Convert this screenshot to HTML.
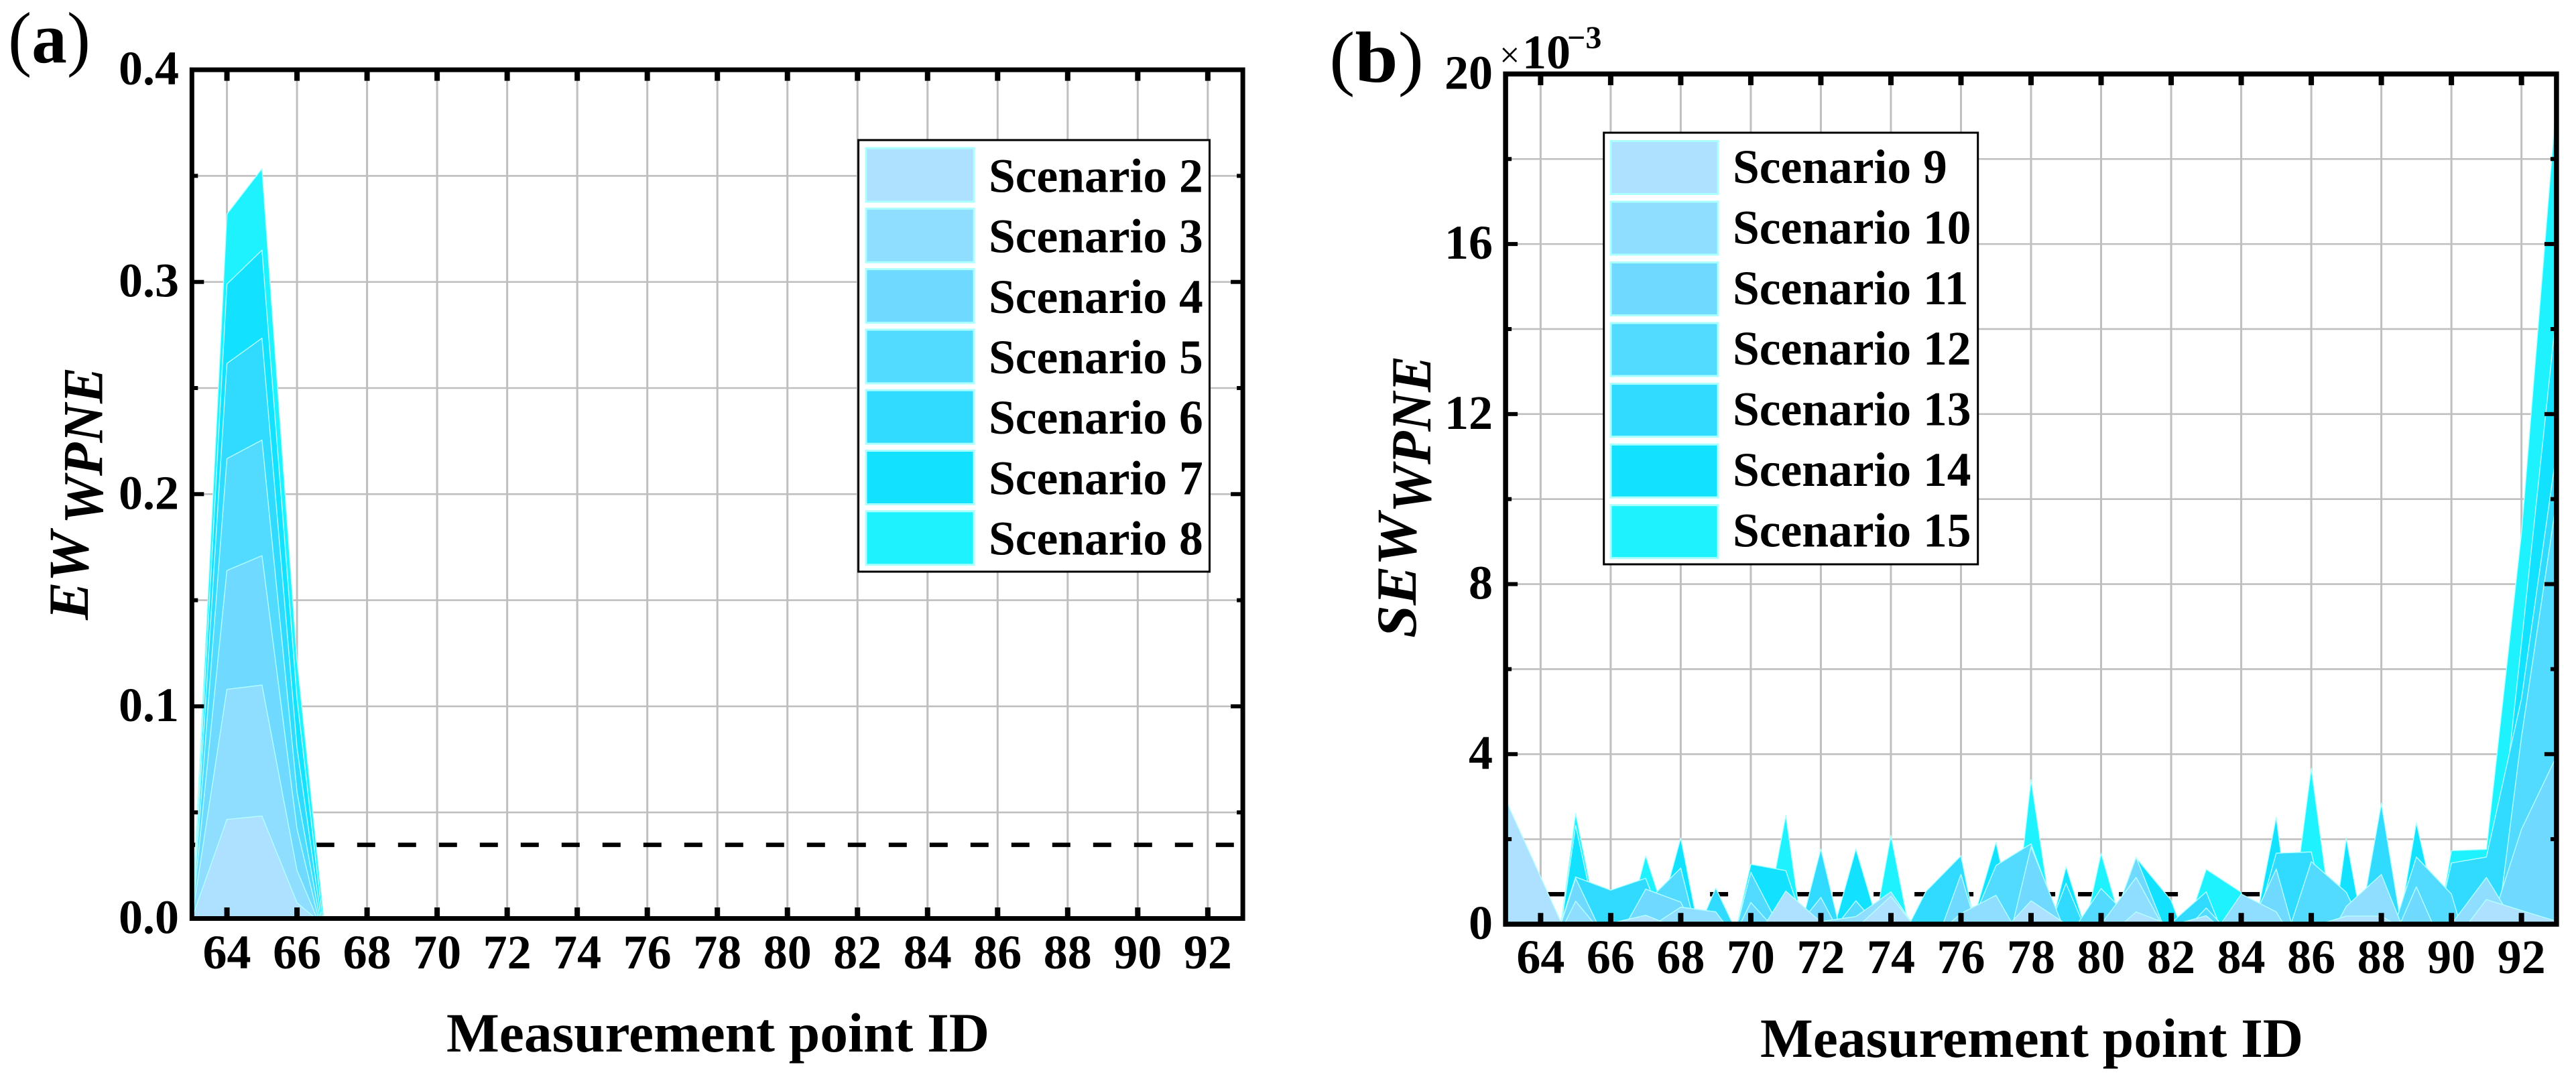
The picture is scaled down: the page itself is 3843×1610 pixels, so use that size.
<!DOCTYPE html>
<html lang="en">
<head>
<meta charset="utf-8">
<title>EW and SEW WPNE by measurement point</title>
<style>
html,body{margin:0;padding:0;background:#fff;}
svg{display:block;}
text{font-family:"Liberation Serif",serif;fill:#000;}
.tick{font-size:72px;font-weight:bold;}
.leg{font-size:71.5px;font-weight:bold;}
.xt{font-size:83px;font-weight:bold;}
.yt{font-size:85px;font-weight:bold;font-style:italic;}
.sw{stroke:#aaffff;stroke-width:3;}
.box{fill:#fff;stroke:#000;stroke-width:3;}
</style>
</head>
<body>
<svg id="figure" xmlns="http://www.w3.org/2000/svg" width="3843" height="1610" viewBox="0 0 3843 1610">
<defs>
<clipPath id="clip-a"><rect x="286.3" y="100" width="1567.7" height="1269.7"/></clipPath>
<clipPath id="clip-b"><rect x="2246.1" y="108" width="1567.9" height="1270"/></clipPath>
</defs>
<rect width="3843" height="1610" fill="#fff"/>

<g id="panel-a"></g>
<g id="panel-b"></g>

<text x="12" y="93" font-size="108" textLength="123" lengthAdjust="spacingAndGlyphs">(<tspan font-weight="bold">a</tspan>)</text>
<text x="1983" y="122" font-size="108" textLength="141" lengthAdjust="spacingAndGlyphs">(<tspan font-weight="bold">b</tspan>)</text>

<text class="xt" x="666" y="1569" textLength="810" lengthAdjust="spacingAndGlyphs">Measurement point ID</text>
<text class="xt" x="2626" y="1577" textLength="810" lengthAdjust="spacingAndGlyphs">Measurement point ID</text>

<text class="yt" transform="translate(131,925) rotate(-90)">EW</text>
<text class="yt" transform="translate(152.5,782) rotate(-90)" textLength="234" lengthAdjust="spacingAndGlyphs">WPNE</text>
<text class="yt" transform="translate(2112,952) rotate(-90)" textLength="186" lengthAdjust="spacingAndGlyphs">SEW</text>
<text class="yt" transform="translate(2134,765) rotate(-90)" textLength="234" lengthAdjust="spacingAndGlyphs">WPNE</text>

<g>
<text x="2237" y="100" font-size="54">×</text>
<text x="2271" y="102" font-size="72" font-weight="bold">10</text>
<text x="2338" y="72" font-size="48" font-weight="bold">−3</text>
</g>

<g>
<rect class="box" x="1280.6" y="209" width="523.9" height="644"/>
<rect class="sw" x="1292" y="221" width="161" height="80" fill="#ADE1FF"/>
<text class="leg" x="1475" y="286.4">Scenario 2</text>
<rect class="sw" x="1292" y="311.3" width="161" height="80" fill="#8FDDFF"/>
<text class="leg" x="1475" y="376.6">Scenario 3</text>
<rect class="sw" x="1292" y="401.6" width="161" height="80" fill="#70D9FF"/>
<text class="leg" x="1475" y="466.8">Scenario 4</text>
<rect class="sw" x="1292" y="491.9" width="161" height="80" fill="#52DBFF"/>
<text class="leg" x="1475" y="557">Scenario 5</text>
<rect class="sw" x="1292" y="582.2" width="161" height="80" fill="#30DBFF"/>
<text class="leg" x="1475" y="647">Scenario 6</text>
<rect class="sw" x="1292" y="672.5" width="161" height="80" fill="#12E2FF"/>
<text class="leg" x="1475" y="737.6">Scenario 7</text>
<rect class="sw" x="1292" y="762.8" width="161" height="80" fill="#1FF2FF"/>
<text class="leg" x="1475" y="827.6">Scenario 8</text>
</g>

<g>
<rect class="box" x="2392.7" y="198" width="558" height="644"/>
<rect class="sw" x="2403" y="210.5" width="160" height="79" fill="#ADE1FF"/>
<text class="leg" x="2585" y="273">Scenario 9</text>
<rect class="sw" x="2403" y="301" width="160" height="79" fill="#8FDDFF"/>
<text class="leg" x="2585" y="363.4">Scenario 10</text>
<rect class="sw" x="2403" y="391.6" width="160" height="79" fill="#70D9FF"/>
<text class="leg" x="2585" y="453.8">Scenario 11</text>
<rect class="sw" x="2403" y="482.1" width="160" height="79" fill="#52DBFF"/>
<text class="leg" x="2585" y="544.2">Scenario 12</text>
<rect class="sw" x="2403" y="572.6" width="160" height="79" fill="#30DBFF"/>
<text class="leg" x="2585" y="634.6">Scenario 13</text>
<rect class="sw" x="2403" y="663.2" width="160" height="79" fill="#12E2FF"/>
<text class="leg" x="2585" y="725">Scenario 14</text>
<rect class="sw" x="2403" y="753.7" width="160" height="79" fill="#1FF2FF"/>
<text class="leg" x="2585" y="815.4">Scenario 15</text>
</g>
</svg>

<script>
const measurementPoints = [63,64,65,66,67,68,69,70,71,72,73,74,75,76,77,78,79,80,81,82,83,84,85,86,87,88,89,90,91,92,93];
const xTickLabels = [64,66,68,70,72,74,76,78,80,82,84,86,88,90,92];

const ewTickValues = [0,0.1,0.2,0.3,0.4];
const ewTickLabels = ['0.0','0.1','0.2','0.3','0.4'];
const ewMinorValues = [0.05,0.15,0.25,0.35];
const ewThreshold = 0.0347;

const ew2 = [0,0.0467,0.0483,0.0074,-0.0064,0,0,0,0,0,0,0,0,0,0,0,0,0,0,0,0,0,0,0,0,0,0,0,0,0,0];
const ew3 = [0,0.108,0.110,0.0227,-0.0168,0,0,0,0,0,0,0,0,0,0,0,0,0,0,0,0,0,0,0,0,0,0,0,0,0,0];
const ew4 = [0,0.164,0.171,0.0423,-0.0268,0,0,0,0,0,0,0,0,0,0,0,0,0,0,0,0,0,0,0,0,0,0,0,0,0,0];
const ew5 = [0,0.2167,0.2255,0.0597,-0.032,0,0,0,0,0,0,0,0,0,0,0,0,0,0,0,0,0,0,0,0,0,0,0,0,0,0];
const ew6 = [0,0.2616,0.2735,0.0805,-0.0363,0,0,0,0,0,0,0,0,0,0,0,0,0,0,0,0,0,0,0,0,0,0,0,0,0,0];
const ew7 = [0,0.299,0.315,0.1036,-0.0389,0,0,0,0,0,0,0,0,0,0,0,0,0,0,0,0,0,0,0,0,0,0,0,0,0,0];
const ew8 = [0,0.332,0.3534,0.122,-0.0373,0,0,0,0,0,0,0,0,0,0,0,0,0,0,0,0,0,0,0,0,0,0,0,0,0,0];

const sewTickValues = [0,4,8,12,16,20];
const sewTickLabels = ['0','4','8','12','16','20'];
const sewMinorValues = [2,6,10,14,18];
const sewThreshold = 0.705;

const sew9  = [2.93,1.11,-0.72,0.02,0.21,-0.12,-0.5,-0.54,0.78,0.05,-0.1,0.66,-0.4,-0.3,-0.35,0.55,0,-0.44,0.29,-0.03,0.2,-0.5,-0.3,-0.06,0.19,0.19,-0.3,-0.5,0.58,0.32,0.07];
const sew10 = [0.5,-1.12,0.54,-0.45,-0.14,0.40,0.29,-0.82,0.72,0.06,0.18,0.76,-0.46,0.25,0.68,-0.76,-0.5,0,1.1,-0.4,-0.5,0.71,0.29,-1.1,0.42,1.17,-0.88,0,1.1,-0.25,-0.3];
const sew11 = [0.5,-1.5,1.08,-0.65,0.825,0.52,-1.15,0.51,-0.4,0.63,-0.92,-0.5,-1.1,1.17,-1.65,1.82,-0.23,-0.69,1.57,-0.5,-0.4,-0.5,1.3,-1.64,-1,-1,0.88,-1,-0.34,2.23,3.95];
const sew12 = [0.5,-1.5,0.9,-0.7,0.5,1.32,-2,1.22,-0.36,-0.5,0.55,-0.4,-0.6,-0.57,1.38,1.89,-0.4,0.84,0,-0.5,0.38,-0.5,-1.07,1.47,0.75,-1,1.58,0.71,-2.1,4.4,9.96];
const sew13 = [0.5,-1.46,1.11,0.80,1.08,-1.08,0.85,-0.88,-1.45,1.77,-1.69,-0.85,0.77,1.61,-2.5,-1.19,0.96,-1,-0.5,0.03,0.76,-1.28,1.67,1.70,-1.84,2.84,-2.2,1.44,1.58,5.3,11.1];
const sew14 = [0.5,-3.4,2.32,-1.5,-1,2.03,-2.2,1.41,1.26,-1.2,1.77,-1,-0.8,-0.88,1.93,-1.9,1.35,-1.28,1.56,0.56,-1.64,-1.73,2.52,-4,2.02,-2.5,2.39,-1.27,-0.97,6.6,14.4];
const sew15 = [0.5,-3.6,2.61,-1.5,1.61,-0.93,-1.8,-1.8,2.56,-3.3,-2.5,2.09,-2.12,-1,-4,3.4,-2.13,1.67,-1.2,-1.19,1.29,0.75,-2.65,3.67,-2.5,2.85,-3,1.73,1.76,9.2,19.4];

const ewSeriesOrder = [ew8,ew7,ew6,ew5,ew4,ew3,ew2];
const sewSeriesOrder = [sew15,sew14,sew13,sew12,sew11,sew10,sew9];
const areaFills = ['#1FF2FF','#12E2FF','#30DBFF','#52DBFF','#70D9FF','#8FDDFF','#ADE1FF'];

const SVGNS = 'http://www.w3.org/2000/svg';
function make(tag, attrs, parent){
  const n = document.createElementNS(SVGNS, tag);
  for (const k in attrs) n.setAttribute(k, attrs[k]);
  parent.appendChild(n);
  return n;
}

function drawPanel(root, o){
  const xs = v => o.x0 + (v - 63) * o.xUnit;
  const ys = v => o.y0 - v * o.yUnit;
  const left = xs(63), right = xs(93), top = ys(o.yMax), bottom = ys(0);

  // grid
  xTickLabels.forEach(function(v){
    const g = make('line',{x1:xs(v),x2:xs(v),y1:top,y2:bottom,stroke:'#bfbfbf','stroke-width':3},root);
    
    
  });
  o.minor.concat(o.major.slice(1,-1)).forEach(function(v){
    const g = make('line',{x1:left,x2:right,y1:ys(v),y2:ys(v),stroke:'#bfbfbf','stroke-width':2.6},root);
    
    
  });

  // threshold
  const d = make('line',{x1:left,x2:right,y1:ys(o.threshold),y2:ys(o.threshold),stroke:'#000','stroke-width':6.5,'stroke-dasharray':'27 34','stroke-dashoffset':o.dashOffset},root);
  
  

  // areas
  const areas = make('g',{'clip-path':'url(#'+o.clip+')'},root);
  
  
  o.series.forEach(function(vals,i){
    let s = 'M'+xs(measurementPoints[0]).toFixed(2)+','+bottom.toFixed(2);
    vals.forEach(function(v,j){ s += ' L'+xs(measurementPoints[j]).toFixed(2)+','+ys(v).toFixed(2); });
    s += ' L'+xs(measurementPoints[vals.length-1]).toFixed(2)+','+bottom.toFixed(2)+' Z';
    const p = make('path',{d:s,fill:areaFills[i],stroke:'#b4ffff','stroke-width':1.4,'stroke-linejoin':'round'},areas);
    
    
  });

  // x ticks
  xTickLabels.forEach(function(v){
    const b = make('rect',{x:xs(v)-4,y:bottom-o.xTick-o.axis/2,width:8,height:o.xTick+2},root);
    
    
    const t = make('rect',{x:xs(v)-4,y:top+o.axis/2-2,width:8,height:o.xTick+2},root);
    
    
    const l = make('text',{x:xs(v),y:o.xLabelY,'text-anchor':'middle','class':'tick'},root);
    
    
    l.textContent = String(v);
  });

  // y ticks
  function yTick(v, len){
    const a = make('rect',{x:left,y:ys(v)-3,width:len,height:6},root);
    
    
    const b = make('rect',{x:right-len,y:ys(v)-3,width:len,height:6},root);
    
    
  }
  o.major.forEach(function(v){ yTick(v, o.majorLen); });
  o.minor.forEach(function(v){ yTick(v, o.minorLen); });
  o.major.forEach(function(v,i){
    const l = make('text',{x:o.yLabelX,y:ys(v)+22,'text-anchor':'end','class':'tick'},root);
    
    
    l.textContent = o.labels[i];
  });

  // frame
  const f = make('rect',{x:left,y:top,width:right-left,height:bottom-top,fill:'none',stroke:'#000','stroke-width':o.axis},root);
  
  
}

drawPanel(document.getElementById('panel-a'),{
  x0:286.3,xUnit:52.26,y0:1370.5,yUnit:3166,yMax:0.4,axis:7,
  series:ewSeriesOrder,major:ewTickValues,minor:ewMinorValues,labels:ewTickLabels,
  threshold:ewThreshold,dashOffset:-2.5,clip:'clip-a',
  xTick:13,majorLen:18,minorLen:9,xLabelY:1445,yLabelX:267
});
drawPanel(document.getElementById('panel-b'),{
  x0:2246.1,xUnit:52.26,y0:1379,yUnit:63.43,yMax:20,axis:7.5,
  series:sewSeriesOrder,major:sewTickValues,minor:sewMinorValues,labels:sewTickLabels,
  threshold:sewThreshold,dashOffset:0,clip:'clip-b',
  xTick:13,majorLen:18,minorLen:9,xLabelY:1452,yLabelX:2227
});
</script>
</body>
</html>
